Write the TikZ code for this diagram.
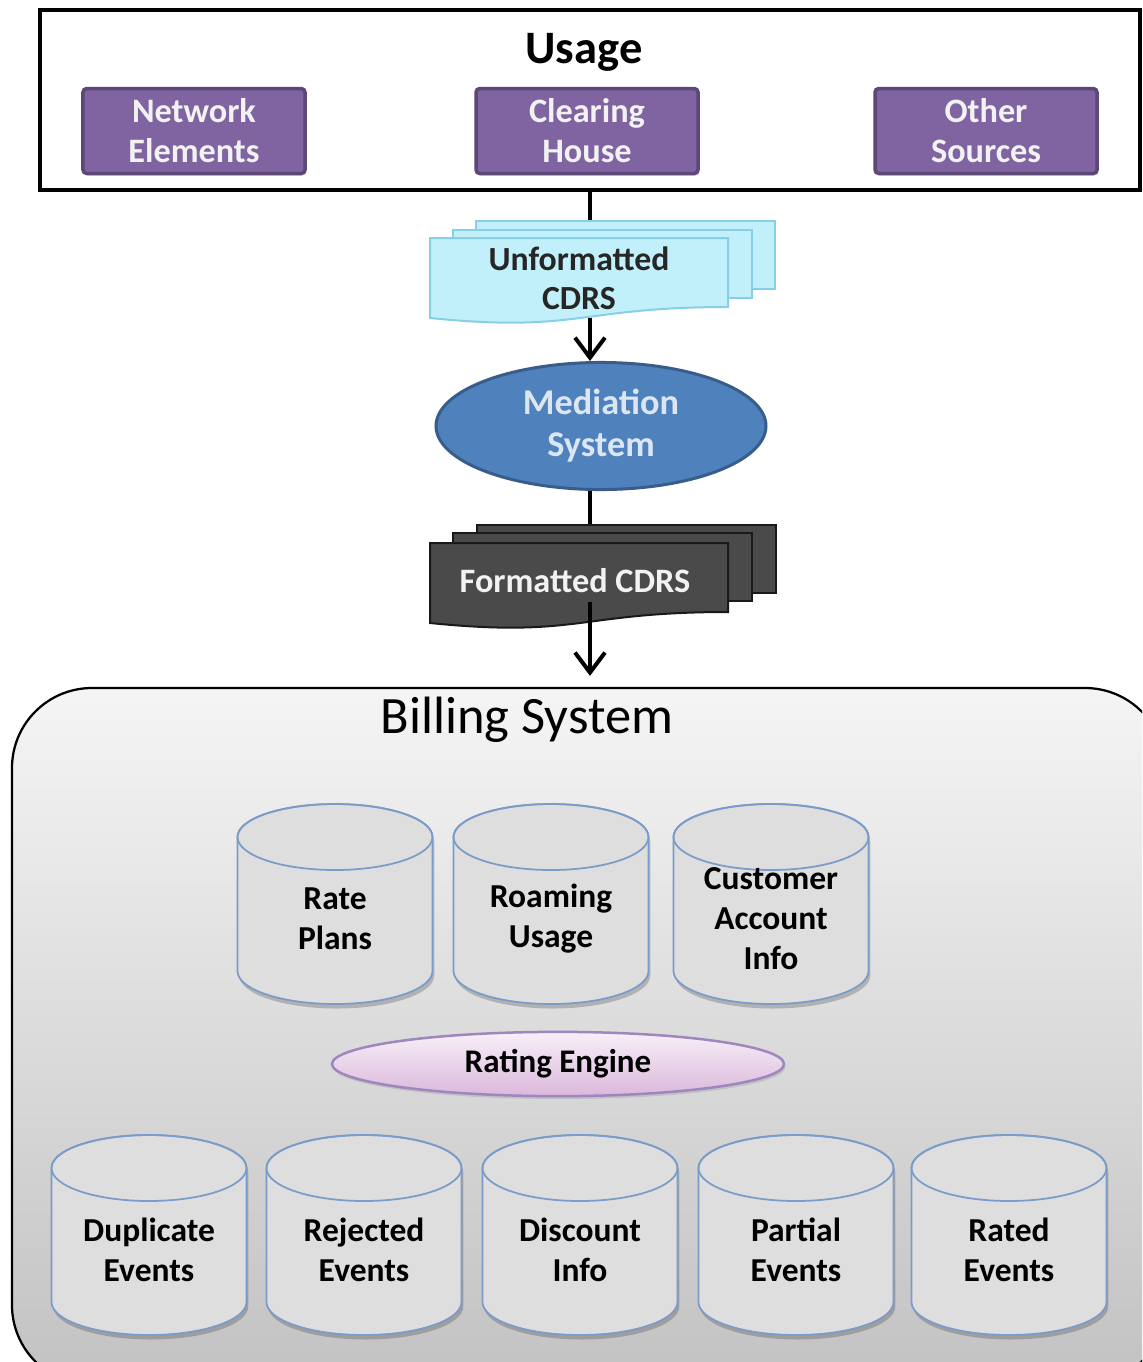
\documentclass[tikz,border=0pt]{standalone}
\usepackage{fontspec}
\setmainfont{Carlito}
\usepackage{tikz}
\usetikzlibrary{shapes.geometric}
\usetikzlibrary{arrows.meta}
\usetikzlibrary{shadows}

\definecolor{srcpurple}{HTML}{8064A2}
\definecolor{srcedge}{HTML}{5C4776}
\definecolor{medblue}{HTML}{4F81BD}
\definecolor{mededge}{HTML}{385D8A}
\definecolor{medtext}{HTML}{DCE6F2}
\definecolor{docfill}{HTML}{C2F0FA}
\definecolor{docedge}{HTML}{86CFE6}
\definecolor{darkdoc}{HTML}{4A4A4A}
\definecolor{dbedge}{HTML}{7A9CC8}
\definecolor{rateedge}{HTML}{9E86BE}

% cylinder outline, drawn round (0,0)
\newcommand{\dbbody}{(-39pt,26.8pt) -- (-39pt,-26.8pt)
  arc[start angle=180, end angle=360, x radius=39pt, y radius=13.2pt]
  -- (39pt,26.8pt) arc[start angle=0, end angle=180, x radius=39pt, y radius=13.2pt] -- cycle}
% name, position, label
\newcommand{\dbase}[3]{%
  \begin{scope}[shift={#2}]
    \fill[black, opacity=0.2, shift={(0.7pt,-1.8pt)}] \dbbody;
    \filldraw[dbline, fill=black!13] \dbbody;
    \draw[dbline] (0,26.8pt) ellipse [x radius=39pt, y radius=13.2pt];
  \end{scope}
  \node (#1) [dbtext] at #2 {#3};}

\begin{document}
\begin{tikzpicture}[x=0.4pt, y=-0.4pt,
  srcbox/.style={rectangle, draw=srcedge, line width=1.4pt, fill=srcpurple, rounded corners=1.5pt,
    minimum width=88.8pt, minimum height=34pt, align=center, text=white!95!black,
    font={\fontsize{13.7}{16}\selectfont\bfseries},
    drop shadow={opacity=0.25, shadow xshift=0.6pt, shadow yshift=-0.8pt}},
  dbline/.style={draw=dbedge, line width=0.7pt},
  dbtext/.style={align=center, yshift=-5.8pt, font={\fontsize{13.4}{16}\selectfont\bfseries}},
  page/.style={rectangle, line width=0.8pt, inner sep=0, minimum width=119.6pt, minimum height=27.2pt},
  link/.style={line width=1.6pt},
  arr/.style={line width=1.6pt, -{Straight Barb[length=8pt, width=12pt, line width=1.6pt]}}]

  \clip (0,0) rectangle (1142,1362);
  \fill[white] (0,0) rectangle (1142,1362);

  % usage sources
  \node (usage) [draw, line width=1.6pt, minimum width=440pt, minimum height=72pt] at (590,100) {};
  \node (usagettl) [font={\fontsize{18.6}{20}\selectfont\bfseries}] at (584,52) {Usage};
  \node (ne) [srcbox] at (194,131) {Network\\Elements};
  \node (ch) [srcbox] at (587,131) {Clearing\\House};
  \node (os) [srcbox] at (986,131) {Other\\Sources};

  % unformatted cdrs
  \node (ucdrb) [page, draw=docedge, fill=docfill] at (625.5,255) {};
  \node (ucdrm) [page, draw=docedge, fill=docfill] at (602,263.5) {};
  \draw[line width=0.8pt, draw=docedge, fill=docfill]
    (430,238) -- (728,238) -- (728,307) .. controls (579,307) and (579,333) .. (430,318) -- cycle;
  \node (ucdr) [align=center, text=black!85, font={\fontsize{13.5}{15.6}\selectfont\bfseries}] at (579,278) {Unformatted\\CDRS};

  \node (med) [ellipse, draw=mededge, line width=1.2pt, fill=medblue, minimum width=132pt, minimum height=49.6pt,
    align=center, text=medtext, font={\fontsize{14.5}{16.8}\selectfont\bfseries}] at (601,426) {Mediation\\System};

  % formatted cdrs
  \node (fcdrb) [page, draw=black!90, fill=darkdoc] at (626.5,558.5) {};
  \node (fcdrm) [page, draw=black!90, fill=darkdoc] at (602,566.5) {};
  \draw[line width=0.8pt, draw=black!90, fill=darkdoc]
    (430,543) -- (728,543) -- (728,612) .. controls (579,612) and (579,638) .. (430,623) -- cycle;
  \node (fcdr) [text=white!95!black, font={\fontsize{13.7}{16}\selectfont\bfseries}] at (575,581) {Formatted CDRS};

  % billing system
  \node (bill) [draw, line width=0.9pt, rounded corners=32pt, top color=black!4, bottom color=black!24,
    minimum width=461.2pt, minimum height=278.8pt] at (588.5,1036.5) {};
  \node (billttl) [font={\fontsize{21}{24}\selectfont}] at (527,720) {Billing System};

  \dbase{rp}{(335,904)}{Rate\\Plans}
  \dbase{ru}{(551,904)}{Roaming\\Usage}
  \dbase{ca}{(771,904)}{Customer\\Account\\Info}

  \node (re) [ellipse, draw=rateedge, line width=1pt, top color=violet!6, bottom color=violet!28,
    minimum width=180.8pt, minimum height=20.8pt, font={\fontsize{13.2}{16}\selectfont\bfseries},
    drop shadow={opacity=0.25, shadow xshift=0.6pt, shadow yshift=-1.2pt}] at (558,1064) {Rating Engine};

  \dbase{de}{(149,1235)}{Duplicate\\Events}
  \dbase{rj}{(364,1235)}{Rejected\\Events}
  \dbase{di}{(580,1235)}{Discount\\Info}
  \dbase{pe}{(796,1235)}{Partial\\Events}
  \dbase{ra}{(1009,1235)}{Rated\\Events}

  \draw[link] (usage.south) -- (usage.south |- ucdrb.north);
  \draw[arr] (usage.south |- ucdr.south) -- (usage.south |- med.north);
  \draw[link] (usage.south |- med.south) -- (usage.south |- fcdrb.north);
  \draw[arr, shorten >=4.4pt] (usage.south |- fcdr.south) -- (usage.south |- bill.north);
\end{tikzpicture}
\end{document}
